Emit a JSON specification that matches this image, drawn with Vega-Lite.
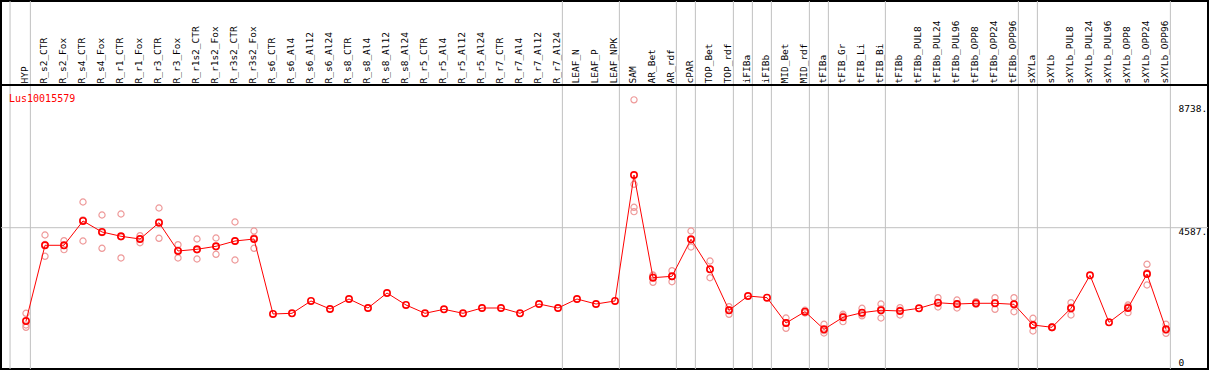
{
  "$schema": "https://vega.github.io/schema/vega-lite/v6.json",
  "width": 1207,
  "height": 368,
  "autosize": "none",
  "padding": {"left": 1, "top": 1, "right": 1, "bottom": 1},
  "background": "white",
  "config": {
    "view": {"stroke": "black", "strokeWidth": 2},
    "font": "DejaVu Sans Mono"
  },
  "title": {
    "text": "Lus10015579",
    "anchor": "start",
    "frame": "group",
    "color": "#ff0000",
    "font": "DejaVu Sans Mono",
    "fontSize": 10,
    "fontWeight": "normal",
    "offset": 0,
    "baseline": "alphabetic",
    "dx": 8,
    "dy": 111
  },
  "datasets": {
    "means": [
      {"cat": "HYP", "v": 1558}, {"cat": "R_s2_CTR", "v": 4016}, {"cat": "R_s2_Fox", "v": 4016}, {"cat": "R_s4_CTR", "v": 4805},
      {"cat": "R_s4_Fox", "v": 4448}, {"cat": "R_r1_CTR", "v": 4308}, {"cat": "R_r1_Fox", "v": 4220}, {"cat": "R_r3_CTR", "v": 4749},
      {"cat": "R_r3_Fox", "v": 3831}, {"cat": "R_r1s2_CTR", "v": 3886}, {"cat": "R_r1s2_Fox", "v": 3983}, {"cat": "R_r3s2_CTR", "v": 4155},
      {"cat": "R_r3s2_Fox", "v": 4220}, {"cat": "R_s6_CTR", "v": 1786}, {"cat": "R_s6_Al4", "v": 1808}, {"cat": "R_s6_Al12", "v": 2208},
      {"cat": "R_s6_Al24", "v": 1948}, {"cat": "R_s8_CTR", "v": 2272}, {"cat": "R_s8_Al4", "v": 1980}, {"cat": "R_s8_Al12", "v": 2467},
      {"cat": "R_s8_Al24", "v": 2078}, {"cat": "R_r5_CTR", "v": 1808}, {"cat": "R_r5_Al4", "v": 1938}, {"cat": "R_r5_Al12", "v": 1808},
      {"cat": "R_r5_Al24", "v": 1980}, {"cat": "R_r7_CTR", "v": 1980}, {"cat": "R_r7_Al4", "v": 1808}, {"cat": "R_r7_Al12", "v": 2110},
      {"cat": "R_r7_Al24", "v": 1980}, {"cat": "LEAF_N", "v": 2272}, {"cat": "LEAF_P", "v": 2110}, {"cat": "LEAF_NPK", "v": 2208},
      {"cat": "SAM", "v": 6298}, {"cat": "AR_Bet", "v": 2964}, {"cat": "AR_rdf", "v": 3009}, {"cat": "cPAR", "v": 4211},
      {"cat": "TOP_Bet", "v": 3237}, {"cat": "TOP_rdf", "v": 1906}, {"cat": "iFIBa", "v": 2370}, {"cat": "iFIBb", "v": 2315},
      {"cat": "MID_Bet", "v": 1493}, {"cat": "MID_rdf", "v": 1860}, {"cat": "tFIBa", "v": 1289}, {"cat": "tFIB_Gr", "v": 1678},
      {"cat": "tFIB_Li", "v": 1828}, {"cat": "tFIB_Bi", "v": 1906}, {"cat": "tFIBb", "v": 1883}, {"cat": "tFIBb_PUL8", "v": 1971},
      {"cat": "tFIBb_PUL24", "v": 2152}, {"cat": "tFIBb_PUL96", "v": 2110}, {"cat": "tFIBb_OPP8", "v": 2133}, {"cat": "tFIBb_OPP24", "v": 2133},
      {"cat": "tFIBb_OPP96", "v": 2100}, {"cat": "sXYLa", "v": 1428}, {"cat": "sXYLb", "v": 1354}, {"cat": "sXYLb_PUL8", "v": 1971},
      {"cat": "sXYLb_PUL24", "v": 3042}, {"cat": "sXYLb_PUL96", "v": 1516}, {"cat": "sXYLb_OPP8", "v": 1980}, {"cat": "sXYLb_OPP24", "v": 3084},
      {"cat": "sXYLb_OPP96", "v": 1289}
    ],
    "reps": [
      {"cat": "HYP", "v": 1808}, {"cat": "HYP", "v": 1428}, {"cat": "HYP", "v": 1354},
      {"cat": "R_s2_CTR", "v": 4350}, {"cat": "R_s2_CTR", "v": 3659}, {"cat": "R_s2_CTR", "v": 4040},
      {"cat": "R_s2_Fox", "v": 4165}, {"cat": "R_s2_Fox", "v": 3873}, {"cat": "R_s2_Fox", "v": 4010},
      {"cat": "R_s4_CTR", "v": 5421}, {"cat": "R_s4_CTR", "v": 4155}, {"cat": "R_s4_CTR", "v": 4839},
      {"cat": "R_s4_Fox", "v": 4999}, {"cat": "R_s4_Fox", "v": 3918}, {"cat": "R_s4_Fox", "v": 4427},
      {"cat": "R_r1_CTR", "v": 5032}, {"cat": "R_r1_CTR", "v": 3604}, {"cat": "R_r1_CTR", "v": 4288},
      {"cat": "R_r1_Fox", "v": 4327}, {"cat": "R_r1_Fox", "v": 4100}, {"cat": "R_r1_Fox", "v": 4233},
      {"cat": "R_r3_CTR", "v": 5227}, {"cat": "R_r3_CTR", "v": 4243}, {"cat": "R_r3_CTR", "v": 4777},
      {"cat": "R_r3_Fox", "v": 4035}, {"cat": "R_r3_Fox", "v": 3604}, {"cat": "R_r3_Fox", "v": 3854},
      {"cat": "R_r1s2_CTR", "v": 4220}, {"cat": "R_r1s2_CTR", "v": 3571}, {"cat": "R_r1s2_CTR", "v": 3867},
      {"cat": "R_r1s2_Fox", "v": 4253}, {"cat": "R_r1s2_Fox", "v": 3724}, {"cat": "R_r1s2_Fox", "v": 3972},
      {"cat": "R_r3s2_CTR", "v": 4772}, {"cat": "R_r3s2_CTR", "v": 3539}, {"cat": "R_r3s2_CTR", "v": 4154},
      {"cat": "R_r3s2_Fox", "v": 4480}, {"cat": "R_r3s2_Fox", "v": 3918}, {"cat": "R_r3s2_Fox", "v": 4262},
      {"cat": "SAM", "v": 8738}, {"cat": "SAM", "v": 5996}, {"cat": "SAM", "v": 5249}, {"cat": "SAM", "v": 5107},
      {"cat": "AR_Bet", "v": 3052}, {"cat": "AR_Bet", "v": 2815}, {"cat": "AR_Bet", "v": 3025},
      {"cat": "AR_rdf", "v": 3191}, {"cat": "AR_rdf", "v": 2834}, {"cat": "AR_rdf", "v": 3002},
      {"cat": "cPAR", "v": 4480}, {"cat": "cPAR", "v": 3961}, {"cat": "cPAR", "v": 4192},
      {"cat": "TOP_Bet", "v": 3506}, {"cat": "TOP_Bet", "v": 2964}, {"cat": "TOP_Bet", "v": 3241},
      {"cat": "TOP_rdf", "v": 2023}, {"cat": "TOP_rdf", "v": 1776}, {"cat": "TOP_rdf", "v": 1919},
      {"cat": "MID_Bet", "v": 1656}, {"cat": "MID_Bet", "v": 1321}, {"cat": "MID_Bet", "v": 1502},
      {"cat": "MID_rdf", "v": 1906}, {"cat": "MID_rdf", "v": 1818},
      {"cat": "tFIBa", "v": 1451}, {"cat": "tFIBa", "v": 1169}, {"cat": "tFIBa", "v": 1247},
      {"cat": "tFIB_Gr", "v": 1776}, {"cat": "tFIB_Gr", "v": 1536}, {"cat": "tFIB_Gr", "v": 1722},
      {"cat": "tFIB_Li", "v": 1971}, {"cat": "tFIB_Li", "v": 1786}, {"cat": "tFIB_Li", "v": 1727},
      {"cat": "tFIB_Bi", "v": 2110}, {"cat": "tFIB_Bi", "v": 1656}, {"cat": "tFIB_Bi", "v": 1952},
      {"cat": "tFIBb", "v": 1990}, {"cat": "tFIBb", "v": 1753}, {"cat": "tFIBb", "v": 1906},
      {"cat": "tFIBb_PUL24", "v": 2315}, {"cat": "tFIBb_PUL24", "v": 2013}, {"cat": "tFIBb_PUL24", "v": 2128},
      {"cat": "tFIBb_PUL96", "v": 2240}, {"cat": "tFIBb_PUL96", "v": 1980}, {"cat": "tFIBb_PUL96", "v": 2110},
      {"cat": "tFIBb_OPP8", "v": 2185}, {"cat": "tFIBb_OPP8", "v": 2100},
      {"cat": "tFIBb_OPP24", "v": 2315}, {"cat": "tFIBb_OPP24", "v": 1938}, {"cat": "tFIBb_OPP24", "v": 2146},
      {"cat": "tFIBb_OPP96", "v": 2315}, {"cat": "tFIBb_OPP96", "v": 1860}, {"cat": "tFIBb_OPP96", "v": 2125},
      {"cat": "sXYLa", "v": 1646}, {"cat": "sXYLa", "v": 1234}, {"cat": "sXYLa", "v": 1404},
      {"cat": "sXYLb", "v": 1370}, {"cat": "sXYLb", "v": 1340},
      {"cat": "sXYLb_PUL8", "v": 2152}, {"cat": "sXYLb_PUL8", "v": 1753}, {"cat": "sXYLb_PUL8", "v": 2008},
      {"cat": "sXYLb_OPP8", "v": 2078}, {"cat": "sXYLb_OPP8", "v": 1828}, {"cat": "sXYLb_OPP8", "v": 2034},
      {"cat": "sXYLb_OPP24", "v": 3399}, {"cat": "sXYLb_OPP24", "v": 2727}, {"cat": "sXYLb_OPP24", "v": 3126},
      {"cat": "sXYLb_OPP96", "v": 1451}, {"cat": "sXYLb_OPP96", "v": 1159}, {"cat": "sXYLb_OPP96", "v": 1257}
    ],
    "seps": [
      {"cat": "HYP"}, {"cat": "R_r7_Al24"}, {"cat": "LEAF_NPK"}, {"cat": "AR_rdf"}, {"cat": "cPAR"},
      {"cat": "TOP_rdf"}, {"cat": "iFIBa"}, {"cat": "iFIBb"}, {"cat": "MID_rdf"}, {"cat": "tFIBa"},
      {"cat": "tFIB_Bi"}, {"cat": "tFIBb_OPP96"}, {"cat": "sXYLa"}, {"cat": "sXYLb_OPP96"}
    ],
    "hlines": [
      {"level": 4587, "kind": "mid"},
      {"level": 9219, "kind": "header"}
    ]
  },
  "layer": [
    {
      "data": {"name": "hlines"},
      "transform": [{"filter": "datum.kind == 'mid'"}],
      "mark": {"type": "rule", "color": "#c0c0c0", "strokeWidth": 1},
      "encoding": {"y": {"field": "level", "type": "quantitative"}}
    },
    {
      "encoding": {
        "x": {
          "field": "cat",
          "type": "nominal",
          "scale": {
            "type": "band",
            "domain": ["HYP","R_s2_CTR","R_s2_Fox","R_s4_CTR","R_s4_Fox","R_r1_CTR","R_r1_Fox","R_r3_CTR","R_r3_Fox","R_r1s2_CTR","R_r1s2_Fox","R_r3s2_CTR","R_r3s2_Fox","R_s6_CTR","R_s6_Al4","R_s6_Al12","R_s6_Al24","R_s8_CTR","R_s8_Al4","R_s8_Al12","R_s8_Al24","R_r5_CTR","R_r5_Al4","R_r5_Al12","R_r5_Al24","R_r7_CTR","R_r7_Al4","R_r7_Al12","R_r7_Al24","LEAF_N","LEAF_P","LEAF_NPK","SAM","AR_Bet","AR_rdf","cPAR","TOP_Bet","TOP_rdf","iFIBa","iFIBb","MID_Bet","MID_rdf","tFIBa","tFIB_Gr","tFIB_Li","tFIB_Bi","tFIBb","tFIBb_PUL8","tFIBb_PUL24","tFIBb_PUL96","tFIBb_OPP8","tFIBb_OPP24","tFIBb_OPP96","sXYLa","sXYLb","sXYLb_PUL8","sXYLb_PUL24","sXYLb_PUL96","sXYLb_OPP8","sXYLb_OPP24","sXYLb_OPP96"],
            "range": [15.5, 1174.5],
            "paddingInner": 0,
            "paddingOuter": 0
          },
          "axis": {
            "orient": "top",
            "offset": -84,
            "title": null,
            "labelAngle": 270,
            "labelFont": "DejaVu Sans Mono",
            "labelFontSize": 9.5,
            "labelColor": "black",
            "labelPadding": 2,
            "labelOffset": -1,
            "labelOverlap": false,
            "labelLimit": 0,
            "ticks": false,
            "domain": false,
            "grid": false
          }
        },
        "y": {
          "field": "v",
          "type": "quantitative",
          "scale": {"domain": [0, 11946], "nice": false, "zero": true},
          "axis": {
            "orient": "right",
            "offset": -31,
            "title": null,
            "values": [0, 4587, 8738],
            "labelExpr": "datum.value == 0 ? '0' : datum.value + '.'",
            "labelFont": "DejaVu Sans Mono",
            "labelFontSize": 9.5,
            "labelColor": "black",
            "labelAlign": "left",
            "labelBaseline": "middle",
            "labelPadding": 1,
            "labelOffset": {"condition": [{"test": "datum.value == 8738", "value": 8.5}, {"test": "datum.value == 0", "value": -7}], "value": 4.3},
            "labelOverlap": false,
            "labelFlush": false,
            "ticks": false,
            "tickSize": 0,
            "domain": false,
            "grid": false
          }
        }
      },
      "layer": [
        {
          "data": {"name": "seps"},
          "mark": {"type": "rule", "color": "#c0c0c0", "strokeWidth": 1},
          "encoding": {
            "x": {
              "field": "cat",
              "type": "nominal",
              "bandPosition": 0.73,
              "scale": {
                "type": "band",
                "domain": ["HYP","R_s2_CTR","R_s2_Fox","R_s4_CTR","R_s4_Fox","R_r1_CTR","R_r1_Fox","R_r3_CTR","R_r3_Fox","R_r1s2_CTR","R_r1s2_Fox","R_r3s2_CTR","R_r3s2_Fox","R_s6_CTR","R_s6_Al4","R_s6_Al12","R_s6_Al24","R_s8_CTR","R_s8_Al4","R_s8_Al12","R_s8_Al24","R_r5_CTR","R_r5_Al4","R_r5_Al12","R_r5_Al24","R_r7_CTR","R_r7_Al4","R_r7_Al12","R_r7_Al24","LEAF_N","LEAF_P","LEAF_NPK","SAM","AR_Bet","AR_rdf","cPAR","TOP_Bet","TOP_rdf","iFIBa","iFIBb","MID_Bet","MID_rdf","tFIBa","tFIB_Gr","tFIB_Li","tFIB_Bi","tFIBb","tFIBb_PUL8","tFIBb_PUL24","tFIBb_PUL96","tFIBb_OPP8","tFIBb_OPP24","tFIBb_OPP96","sXYLa","sXYLb","sXYLb_PUL8","sXYLb_PUL24","sXYLb_PUL96","sXYLb_OPP8","sXYLb_OPP24","sXYLb_OPP96"],
                "range": [15.5, 1174.5],
                "paddingInner": 0,
                "paddingOuter": 0
              }
            },
            "y": null
          }
        },
        {
          "data": {"name": "seps"},
          "transform": [{"filter": "datum.cat == 'HYP'"}],
          "mark": {"type": "rule", "color": "#c0c0c0", "strokeWidth": 1},
          "encoding": {
            "x": {
              "field": "cat",
              "type": "nominal",
              "bandPosition": -0.34,
              "scale": {
                "type": "band",
                "domain": ["HYP","R_s2_CTR","R_s2_Fox","R_s4_CTR","R_s4_Fox","R_r1_CTR","R_r1_Fox","R_r3_CTR","R_r3_Fox","R_r1s2_CTR","R_r1s2_Fox","R_r3s2_CTR","R_r3s2_Fox","R_s6_CTR","R_s6_Al4","R_s6_Al12","R_s6_Al24","R_s8_CTR","R_s8_Al4","R_s8_Al12","R_s8_Al24","R_r5_CTR","R_r5_Al4","R_r5_Al12","R_r5_Al24","R_r7_CTR","R_r7_Al4","R_r7_Al12","R_r7_Al24","LEAF_N","LEAF_P","LEAF_NPK","SAM","AR_Bet","AR_rdf","cPAR","TOP_Bet","TOP_rdf","iFIBa","iFIBb","MID_Bet","MID_rdf","tFIBa","tFIB_Gr","tFIB_Li","tFIB_Bi","tFIBb","tFIBb_PUL8","tFIBb_PUL24","tFIBb_PUL96","tFIBb_OPP8","tFIBb_OPP24","tFIBb_OPP96","sXYLa","sXYLb","sXYLb_PUL8","sXYLb_PUL24","sXYLb_PUL96","sXYLb_OPP8","sXYLb_OPP24","sXYLb_OPP96"],
                "range": [15.5, 1174.5],
                "paddingInner": 0,
                "paddingOuter": 0
              }
            },
            "y": null
          }
        },
        {
          "data": {"name": "reps"},
          "mark": {"type": "point", "shape": "circle", "filled": false, "color": "#ee9999", "strokeWidth": 1.2, "size": 38, "opacity": 1}
        },
        {
          "data": {"name": "means"},
          "mark": {"type": "line", "color": "#ff0000", "strokeWidth": 1},
          "encoding": {"order": {"value": null}}
        },
        {
          "data": {"name": "means"},
          "mark": {"type": "point", "shape": "circle", "filled": false, "color": "#ff0000", "strokeWidth": 1.6, "size": 40, "opacity": 1}
        }
      ]
    },
    {
      "data": {"name": "hlines"},
      "transform": [{"filter": "datum.kind == 'header'"}],
      "mark": {"type": "rule", "color": "black", "strokeWidth": 2},
      "encoding": {"y": {"field": "level", "type": "quantitative"}}
    }
  ]
}
